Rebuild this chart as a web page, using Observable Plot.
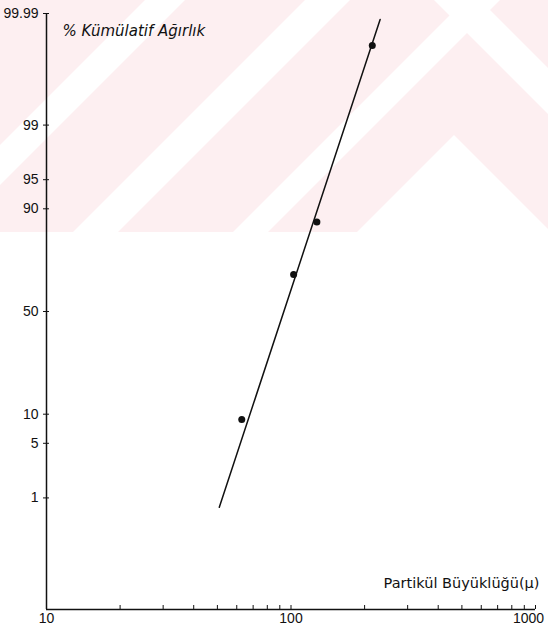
<!DOCTYPE html>
<html><head><meta charset="utf-8">
<script src="https://cdn.jsdelivr.net/npm/d3@7"></script>
<script src="https://cdn.jsdelivr.net/npm/@observablehq/plot@0.6"></script>
<style>
body{margin:0;background:#fff;}
#wrap{position:relative;width:548px;height:635px;overflow:hidden;}
#bg{position:absolute;left:0;top:0;width:548px;height:232px;background:#fdeff1;overflow:hidden;}
#bg div{position:absolute;left:0;top:0;width:548px;height:232px;background:#fff;}
#chart{position:absolute;left:0;top:0;}
</style></head><body>
<div id="wrap">
<div id="bg">
<div style="clip-path:polygon(145px 0,185px 0,0 185px,0 145px)"></div>
<div style="clip-path:polygon(305px 0,350px 0,118px 232px,73px 232px)"></div>
<div style="clip-path:polygon(465px 0,500px 0,268px 232px,233px 232px)"></div>
<div style="clip-path:polygon(434px 0,480px 0,548px 68px,548px 114px)"></div>
<div style="clip-path:polygon(454px 135px,551px 232px,357px 232px)"></div>
</div>
<div id="chart"></div>
</div>
<script>
// Data
const sizes = [62.9, 102.5, 127.6, 215];          // particle size (µ)
const cumPct = [8.9, 67.8, 86.8, 99.955];          // cumulative weight %
const fitSize = [50.9, 231.5];                      // fitted line ends
const fitPct = [0.728, 99.9866];
const yTicks = [1, 5, 10, 50, 90, 95, 99, 99.99];
const xLabelTicks = [10, 100];
const xEndTick = [1000];
const xInTicks = [20,30,40,50,60,70,80,90,100,200,300,400,500,600,700,800,900,1000];

function probit(p){
  const a=[-3.969683028665376e+01,2.209460984245205e+02,-2.759285104469687e+02,1.383577518672690e+02,-3.066479806614716e+01,2.506628277459239e+00];
  const b=[-5.447609879822406e+01,1.615858368580409e+02,-1.556989798598866e+02,6.680131188771972e+01,-1.328068155288572e+01];
  const c=[-7.784894002430293e-03,-3.223964580411365e-01,-2.400758277161838e+00,-2.549732539343734e+00,4.374664141464968e+00,2.938163982698783e+00];
  const d=[7.784695709041462e-03,3.224671290700398e-01,2.445134137142996e+00,3.754408661907416e+00];
  const pl=0.02425, ph=1-pl;
  let q,r;
  if(p<pl){q=Math.sqrt(-2*Math.log(p));return (((((c[0]*q+c[1])*q+c[2])*q+c[3])*q+c[4])*q+c[5])/((((d[0]*q+d[1])*q+d[2])*q+d[3])*q+1);}
  if(p>ph){q=Math.sqrt(-2*Math.log(1-p));return -(((((c[0]*q+c[1])*q+c[2])*q+c[3])*q+c[4])*q+c[5])/((((d[0]*q+d[1])*q+d[2])*q+d[3])*q+1);}
  q=p-0.5;r=q*q;
  return (((((a[0]*r+a[1])*r+a[2])*r+a[3])*r+a[4])*r+a[5])*q/(((((b[0]*r+b[1])*r+b[2])*r+b[3])*r+b[4])*r+1);
}
const z = pct => probit(pct/100);
const zMax = z(99.99);
const points = sizes.map((s,i)=>({size:s, pct:cumPct[i]}));
const fit = fitSize.map((s,i)=>({size:s, pct:fitPct[i]}));
const yTickZ = yTicks.map(z);
const yLabelOf = new Map(yTicks.map(t=>[z(t), String(t)]));
const ink = "#111";

const chart = Plot.plot({
  width:548, height:635,
  marginLeft:46, marginRight:13, marginTop:13, marginBottom:26,
  style:{background:"transparent", fontFamily:"'Liberation Sans', Arial, sans-serif", fontSize:"14px", color:ink, overflow:"visible"},
  x:{type:"log", domain:[10,1000]},
  y:{type:"linear", domain:[-zMax, zMax]},
  marks:[
    Plot.ruleX([10], {stroke:ink, strokeWidth:1.5}),
    Plot.ruleY([-zMax], {stroke:ink, strokeWidth:1.5}),
    Plot.axisY(yTickZ, {tickSize:3, tickPadding:5, tickFormat:d=>yLabelOf.get(d), label:null, fontSize:14, stroke:ink}),
    Plot.axisY(yTickZ, {tickSize:-3, tickFormat:()=>"", label:null, stroke:ink}),
    Plot.axisX(xLabelTicks, {tickSize:0, tickPadding:4, tickFormat:d=>String(d), label:null, fontSize:14}),
    Plot.axisX(xEndTick, {tickSize:0, tickPadding:4, tickFormat:d=>String(d), label:null, fontSize:14, dx:-7}),
    Plot.axisX(xInTicks, {tickSize:-4, tickFormat:()=>"", label:null, stroke:ink}),
    Plot.line(fit, {x:"size", y:d=>z(d.pct), stroke:ink, strokeWidth:1.5}),
    Plot.dot(points, {x:"size", y:d=>z(d.pct), r:3.5, fill:ink}),
    Plot.text(["% Kümülatif Ağırlık"], {frameAnchor:"top-left", dx:16, dy:12, textAnchor:"start", fontStyle:"italic", fontSize:15, fontFamily:"'DejaVu Sans', sans-serif", fill:ink}),
    Plot.text(["Partikül Büyüklüğü(μ)"], {frameAnchor:"bottom-right", dx:4, dy:-22, textAnchor:"end", fontSize:14.5, fontFamily:"'DejaVu Sans', sans-serif", fill:ink})
  ]
});
document.getElementById("chart").appendChild(chart);
</script>
</body></html>
